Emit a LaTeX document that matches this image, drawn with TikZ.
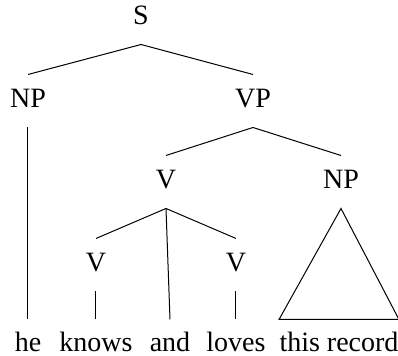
\documentclass[tikz,border=0pt]{standalone}
\usepackage{fontspec}
\setmainfont{Liberation Serif}
\begin{document}
\begin{tikzpicture}[
x=0.5pt, y=-0.5pt,
line width=0.5pt,
every node/.style={inner sep=0pt, anchor=base, font=\fontsize{14}{17}\selectfont},
cat/.style={text height=16.5pt, text depth=9.5pt},
word/.style={text height=16pt, text depth=3pt}
]
\useasboundingbox (0,0) rectangle (398,356);
\node[cat] (s) at (141,25) {S};
\node[cat] (np) at (28,108) {NP};
\node[cat] (vp) at (253,108) {VP};
\node[cat] (v) at (166,189) {V};
\node[cat] (obj) at (341,189) {NP};
\node[cat] (va) at (96,272) {V};
\node[cat] (vb) at (236,272) {V};
\node[word] (he) at (28,352) {he};
\node[word] (knows) at (96,352) {knows};
\node[word] (and) at (170,352) {and};
\node[word] (loves) at (236,352) {loves};
\node[word] (rec) at (339,352) {this record};
\draw (s.south) -- (np.north);
\draw (s.south) -- (vp.north);
\draw (np.south) -- (he.north);
\draw (vp.south) -- (v.north);
\draw (vp.south) -- (obj.north);
\draw (v.south) -- (va.north);
\draw (v.south) -- (and.north);
\draw (v.south) -- (vb.north);
\draw (va.south) -- (knows.north);
\draw (vb.south) -- (loves.north);
\draw (obj.south) -- (rec.north west) -- (rec.north east) -- cycle;
\end{tikzpicture}
\end{document}
